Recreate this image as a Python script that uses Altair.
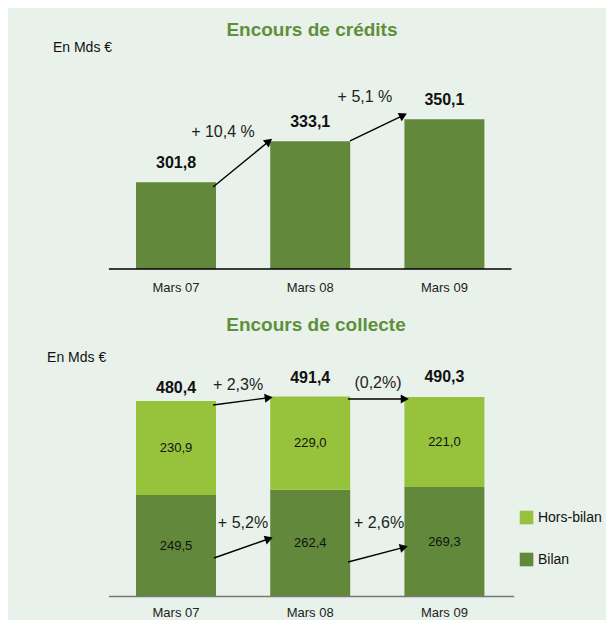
import math
import altair as alt
import pandas as pd

# ---------------- data ----------------
periods = ["Mars 07", "Mars 08", "Mars 09"]
credits = [301.8, 333.1, 350.1]
bilan = [249.5, 262.4, 269.3]
hors_bilan = [230.9, 229.0, 221.0]
series = ["Hors-bilan", "Bilan"]
series_colors = ["#97C33C", "#62893B"]

top_title = "Encours de crédits"
bottom_title = "Encours de collecte"
unit_label = "En Mds €"

# ---------------- layout (scale domains & annotation anchors) ----------------
W, H = 598, 612
x_dom = [-1.2519, 3.2041]
top_dom = [-33.2, 435.15]
bot_dom = [-57.7, 1445.9]
top_base = 235.4
bar_half = 0.298

# arrows: (x_start, y_start, x_tip, y_tip) in data units
top_arrows = [(0.276, 298.2, 0.723, 335.7), (1.297, 333.4, 1.729, 354.8)]
tot_arrows = [(0.276, 470.5, 0.730, 490.2), (1.282, 485.3, 1.744, 485.3)]
bil_arrows = [(0.283, 94.6, 0.730, 146.2), (1.282, 84.8, 1.736, 124.1)]
top_pct_pos = [(0.350, 340.3), (1.408, 367.0)]
tot_pct_pos = [(0.462, 519.7), (1.505, 524.6)]
bil_pct_pos = [(0.499, 180.6), (1.513, 180.6)]
total_lift_px = [8, 14, 15]

FONT = "Liberation Sans"
TITLE_COLOR = "#5E8F3B"
BG = "#E9F2EA"

sx = W / (x_dom[1] - x_dom[0])
sy_top = H / (top_dom[1] - top_dom[0])
sy_bot = H / (bot_dom[1] - bot_dom[0])


def fr(v):
    return f"{v:.1f}".replace(".", ",")


def pct(a, b, space):
    p = (b / a - 1) * 100
    s = f"{abs(p):.1f}".replace(".", ",")
    if p < 0:
        return f"({s}%)"
    return "+ " + s + (" %" if space else "%")


def X(f):
    return alt.X(f, type="quantitative", scale=alt.Scale(domain=x_dom, nice=False, zero=False), axis=None)


def Y(f, dom):
    return alt.Y(f, type="quantitative", scale=alt.Scale(domain=dom, nice=False, zero=False), axis=None)


def arrows(arr, sy, dom, size=85):
    r = math.sqrt(size) / 2
    h2 = 2 * math.tan(math.radians(30)) * r
    rows = []
    for (x1, y1, x2, y2) in arr:
        dxp = (x2 - x1) * sx
        dyp = -(y2 - y1) * sy
        L = math.hypot(dxp, dyp)
        ux, uy = dxp / L, dyp / L
        cx = x2 - h2 * ux / sx
        cy = y2 + h2 * uy / sy
        ang = math.degrees(math.atan2(dyp, dxp)) % 360
        rows.append(dict(x1=x1, y1=y1, x2=cx, y2=cy, ang=ang))
    df = pd.DataFrame(rows)
    shaft = alt.Chart(df).mark_rule(color="black", strokeWidth=1.4).encode(
        x=X("x1"), y=Y("y1", dom), x2="x2", y2="y2")
    head = alt.Chart(df).mark_point(shape="triangle-right", filled=True, color="black",
                                    size=size, opacity=1).encode(
        x=X("x2"), y=Y("y2", dom), angle=alt.Angle("ang:Q", scale=None))
    return shaft + head


def text_layer(df, dom, size, bold=False, color="#111", align="center", baseline="middle", dy=0):
    return alt.Chart(df).mark_text(font=FONT, fontSize=size, fontWeight="bold" if bold else "normal",
                                   color=color, align=align, baseline=baseline, dy=dy).encode(
        x=X("x"), y=Y("y", dom), text="t:N")


# ---------------- top panel: crédits ----------------
top_df = pd.DataFrame({"p": periods, "v": credits, "i": list(range(3))})
top_df["x0"] = top_df["i"] - bar_half
top_df["x1"] = top_df["i"] + bar_half
top_df["base"] = top_base
top_df["t"] = [fr(v) for v in credits]
top_df["x"] = top_df["i"]
top_df["y"] = top_df["v"]

top_bars = alt.Chart(top_df).mark_bar(color="#62893B").encode(
    x=X("x0"), x2="x1", y=Y("base", top_dom), y2="v")
top_axis = alt.Chart(pd.DataFrame({"a": [-0.5], "b": [2.5], "y": [top_base]})).mark_rule(
    color="#000000", strokeWidth=1.5).encode(x=X("a"), x2="b", y=Y("y", top_dom))
top_xlab = text_layer(pd.DataFrame({"x": list(range(3)), "y": [top_base] * 3, "t": periods}),
                      top_dom, 13, color="#222", dy=19)
top_vals = text_layer(top_df[["x", "y", "t"]], top_dom, 16, bold=True, baseline="alphabetic", dy=-14)
top_pcts = text_layer(pd.DataFrame({
    "x": [p[0] for p in top_pct_pos], "y": [p[1] for p in top_pct_pos],
    "t": [pct(credits[0], credits[1], True), pct(credits[1], credits[2], True)]}), top_dom, 16, color="#222")
top_title_l = text_layer(pd.DataFrame({"x": [1.013], "y": [418.3], "t": [top_title]}),
                         top_dom, 19, bold=True, color=TITLE_COLOR)
top_unit = text_layer(pd.DataFrame({"x": [-0.917], "y": [404.5], "t": [unit_label]}),
                      top_dom, 14, align="left")

top_panel = alt.layer(top_bars, top_axis, top_xlab, top_vals, top_pcts, top_title_l, top_unit,
                      arrows(top_arrows, sy_top, top_dom))

# ---------------- bottom panel: collecte ----------------
totals = [b + h for b, h in zip(bilan, hors_bilan)]
rows = []
for i, p in enumerate(periods):
    rows.append(dict(p=p, s="Bilan", y0=0.0, y1=bilan[i], x0=i - bar_half, x1=i + bar_half,
                     x=i, y=bilan[i] / 2, t=fr(bilan[i])))
    rows.append(dict(p=p, s="Hors-bilan", y0=bilan[i], y1=totals[i], x0=i - bar_half, x1=i + bar_half,
                     x=i, y=bilan[i] + hors_bilan[i] / 2, t=fr(hors_bilan[i])))
bot_df = pd.DataFrame(rows)
color_enc = alt.Color("s:N", scale=alt.Scale(domain=series, range=series_colors), legend=None)

bot_bars = alt.Chart(bot_df).mark_bar().encode(
    x=X("x0"), x2="x1", y=Y("y0", bot_dom), y2="y1", color=color_enc)
bot_inner = text_layer(bot_df[["x", "y", "t"]], bot_dom, 13, color="#111")
bot_axis = alt.Chart(pd.DataFrame({"a": [-0.5], "b": [2.52], "y": [0.0]})).mark_rule(
    color="#777777", strokeWidth=1.5).encode(x=X("a"), x2="b", y=Y("y", bot_dom))
bot_xlab = text_layer(pd.DataFrame({"x": list(range(3)), "y": [0.0] * 3, "t": periods}),
                      bot_dom, 13, color="#222", dy=16)
tot_df = pd.DataFrame({"x": list(range(3)),
                       "y": [t + lift / sy_bot for t, lift in zip(totals, total_lift_px)],
                       "t": [fr(v) for v in totals]})
bot_tots = text_layer(tot_df, bot_dom, 16, bold=True, baseline="alphabetic")
tot_pcts = text_layer(pd.DataFrame({
    "x": [p[0] for p in tot_pct_pos], "y": [p[1] for p in tot_pct_pos],
    "t": [pct(totals[0], totals[1], False), pct(totals[1], totals[2], False)]}), bot_dom, 16, color="#222")
bil_pcts = text_layer(pd.DataFrame({
    "x": [p[0] for p in bil_pct_pos], "y": [p[1] for p in bil_pct_pos],
    "t": [pct(bilan[0], bilan[1], False), pct(bilan[1], bilan[2], False)]}), bot_dom, 16, color="#222")
bot_title_l = text_layer(pd.DataFrame({"x": [1.043], "y": [667.1], "t": [bottom_title]}),
                         bot_dom, 19, bold=True, color=TITLE_COLOR)
bot_unit = text_layer(pd.DataFrame({"x": [-0.961], "y": [586.0], "t": [unit_label]}),
                      bot_dom, 14, align="left")

leg_df = pd.DataFrame({"s": series, "x": [2.612, 2.612], "y": [194.1, 90.9],
                       "tx": [2.697, 2.697], "t": series})
leg_sq = alt.Chart(leg_df).mark_square(size=185, opacity=1).encode(
    x=X("x"), y=Y("y", bot_dom), color=color_enc)
leg_tx = alt.Chart(leg_df).mark_text(font=FONT, fontSize=14, color="#111", align="left",
                                     baseline="middle").encode(
    x=X("tx"), y=Y("y", bot_dom), text="t:N")

bot_panel = alt.layer(bot_bars, bot_axis, bot_inner, bot_xlab, bot_tots, tot_pcts, bil_pcts,
                      bot_title_l, bot_unit, leg_sq, leg_tx,
                      arrows(tot_arrows, sy_bot, bot_dom), arrows(bil_arrows, sy_bot, bot_dom))

chart = alt.layer(top_panel, bot_panel).resolve_scale(y="independent").properties(
    width=W, height=H, autosize=alt.AutoSizeParams(type="none"), padding=0, background=BG
).configure_view(strokeWidth=0)

chart.save("out.html", embed_options={"renderer": "svg", "actions": False})
